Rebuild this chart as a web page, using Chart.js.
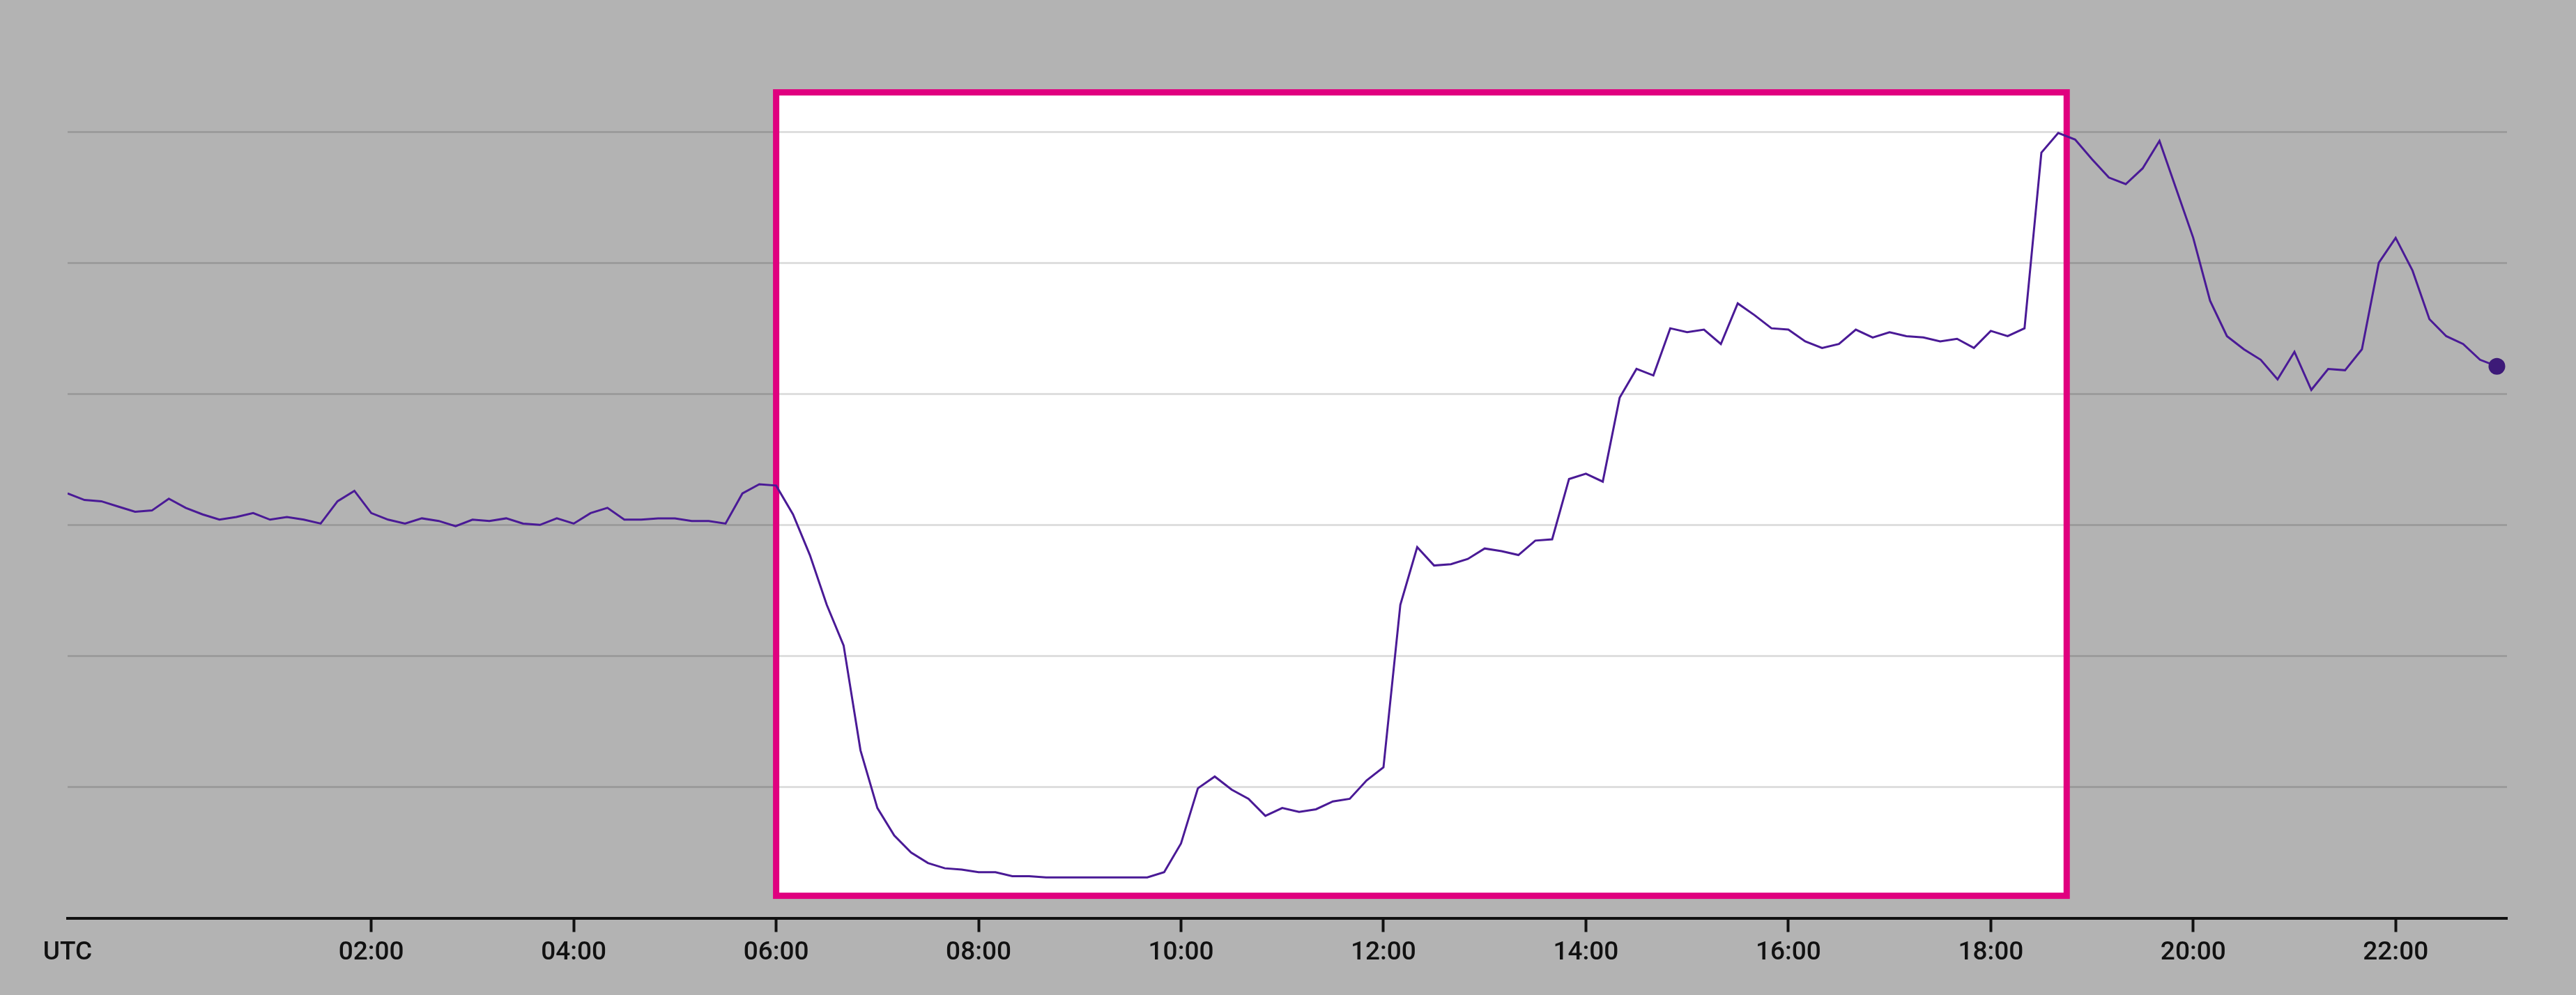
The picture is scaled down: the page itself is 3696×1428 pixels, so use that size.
<!DOCTYPE html>
<html><head><meta charset="utf-8">
<script src="https://cdn.jsdelivr.net/npm/chart.js@4"></script>
<style>html,body{margin:0;padding:0;background:#b3b3b3;}#c{display:block;}</style>
</head><body>
<canvas id="c" width="3696" height="1428"></canvas>
<script>
const startMinute = -60;
const stepMinutes = 10;
const values = [
3.24,3.19,3.18,3.14,3.10,3.11,
3.20,3.13,3.08,3.04,3.06,3.09,
3.04,3.06,3.04,3.01,3.18,3.26,
3.09,3.04,3.01,3.05,3.03,2.99,
3.04,3.03,3.05,3.01,3.00,3.05,
3.01,3.09,3.13,3.04,3.04,3.05,
3.05,3.03,3.03,3.01,3.24,3.31,
3.30,3.08,2.77,2.39,2.08,1.28,
0.84,0.63,0.50,0.42,0.38,0.37,
0.35,0.35,0.32,0.32,0.31,0.31,
0.31,0.31,0.31,0.31,0.31,0.35,
0.57,0.99,1.08,0.98,0.91,0.78,
0.84,0.81,0.83,0.89,0.91,1.05,
1.15,2.39,2.83,2.69,2.70,2.74,
2.82,2.80,2.77,2.88,2.89,3.35,
3.39,3.33,3.97,4.19,4.14,4.50,
4.47,4.49,4.38,4.69,4.60,4.50,
4.49,4.40,4.35,4.38,4.49,4.43,
4.47,4.44,4.43,4.40,4.42,4.35,
4.48,4.44,4.50,5.84,5.99,5.94,
5.79,5.65,5.60,5.72,5.93,5.56,
5.19,4.71,4.44,4.34,4.26,4.11,
4.32,4.03,4.19,4.18,4.34,5.00,
5.19,4.94,4.57,4.44,4.38,4.26,
4.21];
const tickMinutes = [-60,120,240,360,480,600,720,840,960,1080,1200,1320];
const tickLabels = ['UTC','02:00','04:00','06:00','08:00','10:00','12:00','14:00','16:00','18:00','20:00','22:00'];
const highlightStart = 360, highlightEnd = 1125;

const points = values.map((v,i)=>({x:startMinute+i*stepMinutes,y:v}));
const lastIdx = points.length-1;

const boxPlugin = {
  id:'box',
  beforeDraw(chart){
    const {ctx} = chart;
    ctx.save(); ctx.fillStyle='#b3b3b3'; ctx.fillRect(0,0,chart.width,chart.height);
    const x=chart.scales.x, y=chart.scales.y;
    const l=x.getPixelForValue(highlightStart), r=x.getPixelForValue(highlightEnd);
    const t=y.getPixelForValue(6.3), b=y.getPixelForValue(0.17);
    ctx.fillStyle='#ffffff'; ctx.fillRect(l,t,r-l,b-t);
    ctx.restore();
  },
  beforeDatasetsDraw(chart){
    const {ctx} = chart;
    const x=chart.scales.x, y=chart.scales.y;
    const l=x.getPixelForValue(highlightStart), r=x.getPixelForValue(highlightEnd);
    const t=y.getPixelForValue(6.3), b=y.getPixelForValue(0.17);
    ctx.save(); ctx.strokeStyle='#e0007f'; ctx.lineWidth=9; ctx.strokeRect(l,t,r-l,b-t); ctx.restore();
  }
};

new Chart(document.getElementById('c'),{
  type:'line',
  data:{datasets:[{data:points,borderColor:'#4a1a96',borderWidth:3,tension:0,
    pointRadius:ctx=>ctx.dataIndex===lastIdx?12:0,pointBackgroundColor:'#3d1a78',pointBorderWidth:0}]},
  options:{
    responsive:false,animation:false,devicePixelRatio:1,
    layout:{padding:{left:97,right:99,top:189,bottom:30}},
    plugins:{legend:{display:false},tooltip:{enabled:false}},
    scales:{
      x:{type:'linear',min:-60,max:1386,
        afterBuildTicks(s){s.ticks=tickMinutes.map(v=>({value:v}));},
        grid:{display:true,drawOnChartArea:false,drawTicks:true,tickLength:20,tickWidth:4,tickColor:ctx=>ctx.index===0?'rgba(0,0,0,0)':'#111'},
        border:{display:true,color:'#111',width:4},
        ticks:{autoSkip:false,maxRotation:0,padding:8,color:'#111',font:{family:'Roboto',size:37,weight:'500'},
          callback:(v,i)=>tickLabels[i],
          align:'center'}
      },
      y:{min:0,max:6,
        ticks:{display:false,stepSize:1},
        grid:{color:ctx=>ctx.tick.value===0?'rgba(0,0,0,0)':'rgba(0,0,0,0.13)',lineWidth:3,drawTicks:false},
        border:{display:false}}
    }
  },
  plugins:[boxPlugin, {id:'utcAlign',afterDraw(){}}]
});
</script>
</body></html>
